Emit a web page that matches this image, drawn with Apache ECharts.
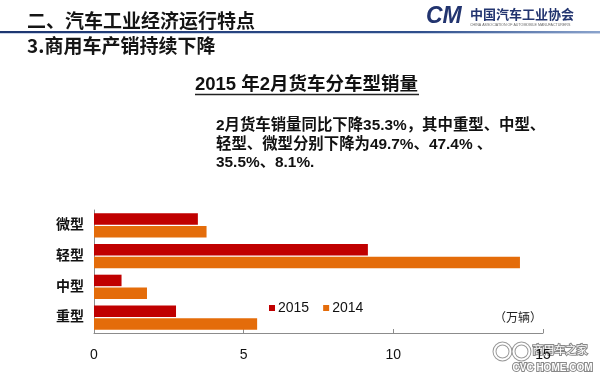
<!DOCTYPE html>
<html>
<head>
<meta charset="utf-8">
<script src="https://cdn.jsdelivr.net/npm/echarts@6/dist/echarts.min.js"></script>
<style>html,body{margin:0;padding:0;background:#fff}#c{width:600px;height:382px}</style>
</head>
<body>
<div id="c"></div>
<script>
const categories = ['重型', '中型', '轻型', '微型'];
const sales2015 = [2.74, 0.92, 9.15, 3.47];
const sales2014 = [5.45, 1.77, 14.23, 3.76];
const seriesNames = ['2015', '2014'];
const xTicks = [0, 5, 10, 15];
const unitLabel = '（万辆）';
const headerText = '二、汽车工业经济运行特点';
const subHeaderText = '3.商用车产销持续下降';
const chartTitle = '2015 年2月货车分车型销量';
const noteLines = [
  '2月货车销量同比下降35.3%，其中重型、中型、',
  '轻型、微型分别下降为49.7%、47.4% 、',
  '35.5%、8.1%.'
];

const F = '"Liberation Sans", Arial, "Noto Sans CJK SC", sans-serif';
const chart = echarts.init(document.getElementById('c'));
chart.setOption({
  animation: false,
  backgroundColor: '#fff',
  color: ['#C00000', '#E46C0A'],
  grid: { left: 94, right: 57, top: 210, bottom: 49, containLabel: false },
  legend: {
    data: seriesNames,
    left: 264, top: 296,
    icon: 'rect', itemWidth: 6, itemHeight: 6, itemGap: 14,
    textStyle: { fontFamily: F, fontSize: 14, color: '#111', padding: [0, 0, 0, -2] }
  },
  xAxis: {
    type: 'value', min: xTicks[0], max: xTicks[xTicks.length - 1], interval: 5,
    axisLine: { show: true, lineStyle: { color: '#8c8c8c', width: 1 } },
    axisTick: { show: true, inside: true, length: 4, lineStyle: { color: '#8c8c8c' } },
    splitLine: { show: false },
    axisLabel: { fontFamily: F, fontSize: 14, color: '#111', margin: 15 }
  },
  yAxis: {
    type: 'category', data: categories,
    axisLine: { show: true, lineStyle: { color: '#8c8c8c', width: 1 } },
    axisTick: { show: false },
    axisLabel: { fontFamily: F, fontSize: 14, color: '#111', margin: 10, fontWeight: 'bold' }
  },
  series: [
    { name: seriesNames[0], type: 'bar', data: sales2015, barWidth: 11.5, barGap: '12%', barCategoryGap: '22%' },
    { name: seriesNames[1], type: 'bar', data: sales2014, barWidth: 11.5, barGap: '12%', barCategoryGap: '22%' }
  ],
  graphic: [
    { type: 'text', left: 27, top: 11, style: { text: headerText, font: 'bold 19px "Noto Sans CJK SC", sans-serif', fill: '#151515' } },
    { type: 'rect', left: 0, top: 31, shape: { width: 600, height: 2 },
      style: { fill: new echarts.graphic.LinearGradient(0, 0, 1, 0, [{ offset: 0, color: '#1d3670' }, { offset: 0.7, color: '#2f4f8c' }, { offset: 1, color: '#8aa3cc' }]) } },
    { type: 'rect', left: 0, top: 33, shape: { width: 600, height: 1 }, style: { fill: '#c9d3e6' } },
    { type: 'text', left: 426, top: 5, style: { text: 'CM', font: 'italic bold 23px "Liberation Sans", Arial, sans-serif', fill: '#22346f' } },
    { type: 'text', left: 470, top: 8, style: { text: '中国汽车工业协会', font: 'bold 13px "Noto Sans CJK SC", sans-serif', fill: '#22346f' } },
    { type: 'text', left: 470, top: 23, style: { text: 'CHINA ASSOCIATION OF AUTOMOBILE MANUFACTURERS', font: '3.6px "Liberation Sans", Arial, sans-serif', fill: '#666' } },
    { type: 'text', left: 27, top: 36, style: { text: subHeaderText, font: 'bold 19px "Noto Sans CJK SC", sans-serif', fill: '#151515' } },
    { type: 'text', left: 195, top: 76, style: { text: chartTitle, font: 'bold 18.5px "Liberation Sans", Arial, "Noto Sans CJK SC", sans-serif', fill: '#111' } },
    { type: 'line', shape: { x1: 195, y1: 94.5, x2: 419, y2: 94.5 }, style: { stroke: '#222', lineWidth: 1.5 } },
    { type: 'text', left: 216, top: 118.5, style: { text: noteLines[0], font: 'bold 15.4px "Liberation Sans", Arial, "Noto Sans CJK SC", sans-serif', fill: '#111' } },
    { type: 'text', left: 216, top: 137, style: { text: noteLines[1], font: 'bold 15.4px "Liberation Sans", Arial, "Noto Sans CJK SC", sans-serif', fill: '#111' } },
    { type: 'text', left: 216, top: 155.5, style: { text: noteLines[2], font: 'bold 15.4px "Liberation Sans", Arial, "Noto Sans CJK SC", sans-serif', fill: '#111' } },
    { type: 'text', left: 494, top: 311, style: { text: unitLabel, font: '12px "Noto Sans CJK SC", sans-serif', fill: '#222' } },
    { type: 'group', left: 492, top: 341, z: 100, children: [
      { type: 'circle', shape: { cx: 11, cy: 9, r: 8 }, style: { fill: 'none', stroke: '#999', lineWidth: 4 } },
      { type: 'circle', shape: { cx: 11, cy: 9, r: 8 }, style: { fill: 'none', stroke: '#fff', lineWidth: 2 } },
      { type: 'circle', shape: { cx: 30, cy: 9, r: 8 }, style: { fill: 'none', stroke: '#999', lineWidth: 4 } },
      { type: 'circle', shape: { cx: 30, cy: 9, r: 8 }, style: { fill: 'none', stroke: '#fff', lineWidth: 2 } },
      { type: 'text', x: 41, y: 2, style: { text: '商用车之家', font: '11px "Noto Sans CJK SC", sans-serif', fill: '#fff', stroke: '#888', lineWidth: 2 } },
      { type: 'text', x: 21, y: 21, style: { text: 'CVC HOME.COM', font: 'bold 10px "Liberation Sans", Arial, sans-serif', fill: '#fff', stroke: '#888', lineWidth: 2 } }
    ] }
  ]
});
</script>
</body>
</html>
